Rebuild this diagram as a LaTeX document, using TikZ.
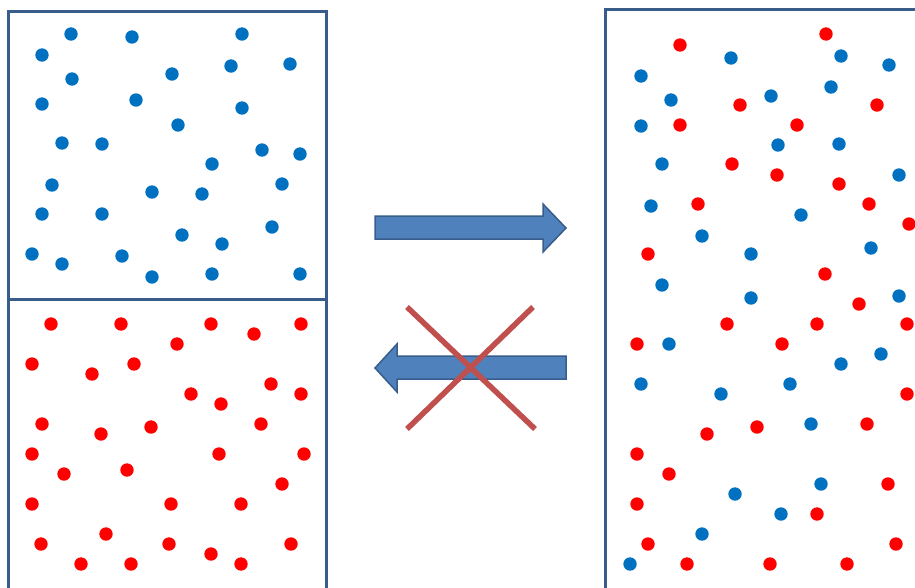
\documentclass[tikz,border=0pt]{standalone}
\usepackage{tikz}
\definecolor{frameBlue}{RGB}{56, 93, 138}
\definecolor{dotBlue}{RGB}{0, 112, 192}
\definecolor{dotRed}{RGB}{255, 0, 0}
\definecolor{arrowFill}{RGB}{79, 129, 189}
\definecolor{crossRed}{RGB}{192, 80, 77}
\tikzset{
  box/.style={draw=frameBlue, line width=3pt},
  bigarrow/.style={fill=arrowFill, draw=frameBlue, line width=1.5pt, line join=miter},
  cross/.style={crossRed, line width=5.5pt}
}
\begin{document}
\begin{tikzpicture}[x=1pt, y=-1pt]
      \useasboundingbox (0,0) rectangle (915,587);

      % containers
      \draw[box] (8,11.5) rectangle (326,299);
      \draw[box] (8,299) -- (8,595) (326,299) -- (326,595);
      \draw[box] (605,595) -- (605,9.5) -- (925,9.5);

      % left top: blue only
      \foreach \x/\y in {71/34, 132/37, 242/34, 42/55, 231/66, 290/64, 72/79, 172/74,
                         42/104, 136/100, 242/108, 178/125, 62/143, 102/144, 262/150, 300/154,
                         212/164, 52/185, 152/192, 202/194, 282/184, 42/214, 102/214, 272/227,
                         182/235, 222/244, 32/254, 62/264, 122/256, 152/277, 212/274, 300/274}
        \fill[dotBlue] (\x,\y) circle (6.7);

      % left bottom: red only
      \foreach \x/\y in {51/324, 121/324, 211/324, 254/334, 301/324, 177/344, 32/364, 134/364,
                         92/374, 271/384, 191/394, 221/404, 301/394, 42/424, 101/434, 151/427,
                         261/424, 32/454, 219/454, 304/454, 64/474, 127/470, 282/484, 32/504,
                         171/504, 241/504, 106/534, 41/544, 169/544, 291/544, 211/554, 81/564,
                         131/564, 241/564}
        \fill[dotRed] (\x,\y) circle (6.7);

      % right: mixed
      \foreach \x/\y in {731/58, 841/56, 889/65, 641/76, 671/100, 771/96, 831/87, 641/126,
                         778/145, 839/144, 662/164, 899/175, 651/206, 801/215, 702/236, 751/254,
                         871/248, 662/285, 751/298, 899/296, 669/344, 841/364, 881/354, 641/384,
                         721/394, 790/384, 811/424, 821/484, 735/494, 781/514, 702/534, 630/564}
        \fill[dotBlue] (\x,\y) circle (6.7);
      \foreach \x/\y in {680/45, 826/34, 740/105, 877/105, 680/125, 797/125, 732/164, 777/175,
                         839/184, 698/204, 869/204, 909/224, 648/254, 825/274, 859/304, 727/324,
                         817/324, 907/324, 637/344, 782/344, 907/394, 707/434, 757/427, 867/424,
                         637/454, 669/474, 888/484, 637/504, 817/514, 648/544, 896/544, 687/564,
                         770/564, 847/564}
        \fill[dotRed] (\x,\y) circle (6.7);

      % arrows
      \draw[bigarrow] (375,216) -- (543,216) -- (543,204) -- (566,228) -- (543,252)
                      -- (543,239) -- (375,239) -- cycle;
      \draw[bigarrow] (566,356) -- (397,356) -- (397,344) -- (375,368) -- (397,392)
                      -- (397,379) -- (566,379) -- cycle;
      \draw[cross] (407,307) -- (535,429);
      \draw[cross] (533,307) -- (407,429);
    \end{tikzpicture}
\end{document}
